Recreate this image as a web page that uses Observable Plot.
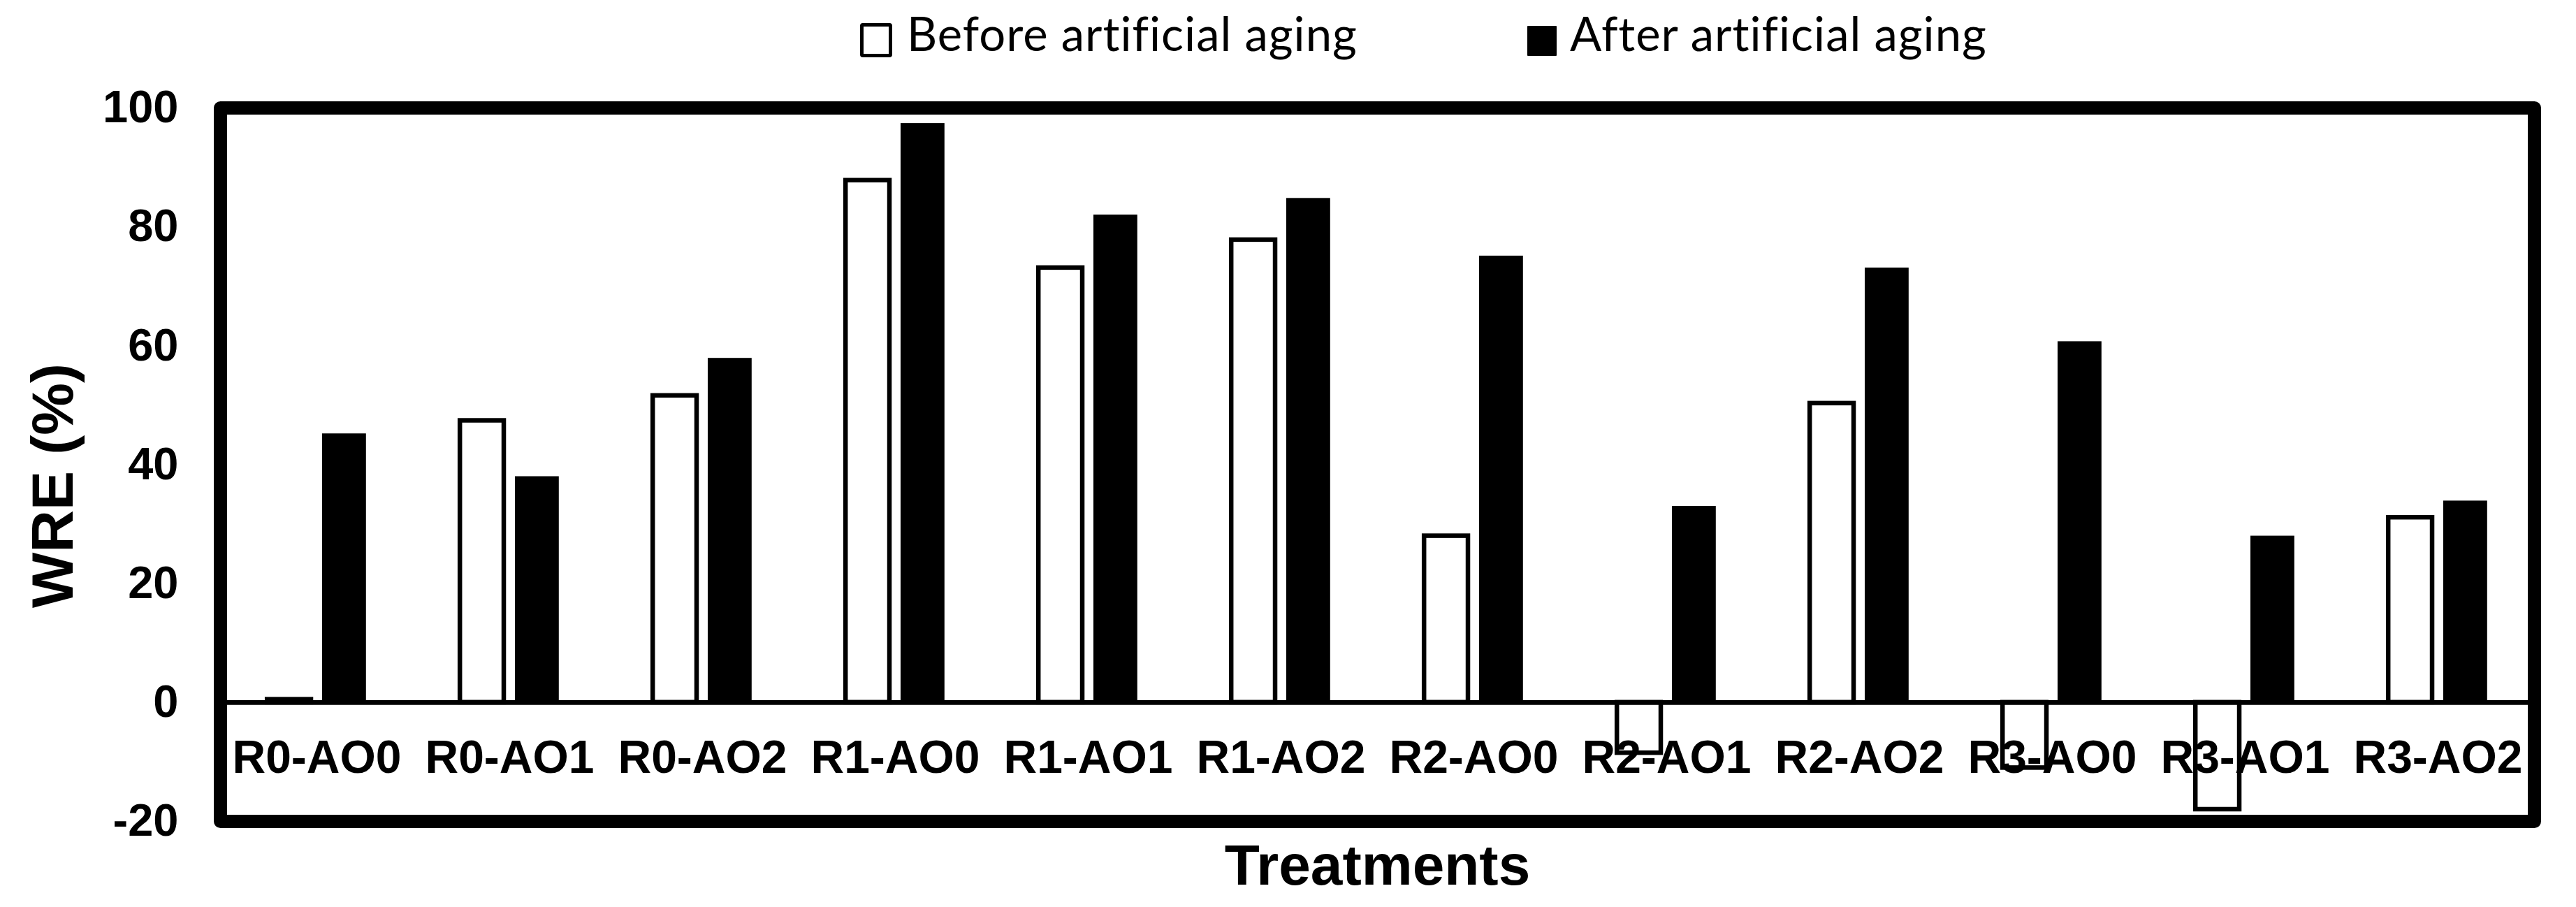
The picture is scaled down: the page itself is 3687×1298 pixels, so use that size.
<!DOCTYPE html>
<html>
<head>
<meta charset="utf-8">
<script src="https://cdn.jsdelivr.net/npm/d3@7"></script>
<script src="https://cdn.jsdelivr.net/npm/@observablehq/plot@0.6"></script>
<style>
  html, body { margin: 0; padding: 0; background: white; }
  #page { position: relative; width: 3687px; height: 1298px; overflow: hidden; }
  #legend { position: relative; height: 110px; font-family: Lato, "Noto Sans", sans-serif; font-size: 67px; color: black; font-variant-ligatures: none; letter-spacing: 1px; }
  .sw { position: absolute; box-sizing: border-box; border-radius: 4px; }
  .lt { position: absolute; top: 0; line-height: 1; white-space: nowrap; }
  #chart svg { display: block; }
</style>
</head>
<body>
<div id="page">
  <div id="legend"></div>
  <div id="chart"></div>
</div>
<script>
const treatments = ["R0-AO0","R0-AO1","R0-AO2","R1-AO0","R1-AO1","R1-AO2","R2-AO0","R2-AO1","R2-AO2","R3-AO0","R3-AO1","R3-AO2"];
const series = ["Before artificial aging", "After artificial aging"];
const beforeValues = [0.5, 47.4, 51.6, 87.8, 73.1, 77.8, 28.0, -8.5, 50.3, -11.0, -18.0, 31.1];
const afterValues  = [45.2, 38.0, 57.9, 97.4, 82.0, 84.8, 75.1, 33.0, 73.1, 60.7, 28.0, 33.9];
const yTicks = [-20, 0, 20, 40, 60, 80, 100];
const yTitle = "WRE (%)";
const xTitle = "Treatments";

const data = treatments.flatMap((t, i) => [
  {treatment: t, series: series[0], value: beforeValues[i]},
  {treatment: t, series: series[1], value: afterValues[i]}
]);

// Legend (HTML, above the SVG)
const legend = document.getElementById("legend");
legend.innerHTML = `
  <div class="sw" style="left:1231px;top:33px;width:46px;height:49px;border:5px solid black;background:white"></div>
  <div class="lt" id="lt0" style="left:1298px">${series[0]}</div>
  <div class="sw" style="left:2186px;top:37px;width:42px;height:43px;background:black;border-radius:1px"></div>
  <div class="lt" id="lt1" style="left:2247px">${series[1]}</div>`;
for (const id of ["lt0","lt1"]) {
  const el = document.getElementById(id);
  el.style.top = (80 - 67 * 0.987) + "px";
}

const chart = Plot.plot({
  width: 3687,
  height: 1188,
  marginTop: 44,
  marginBottom: 123,
  marginLeft: 310,
  marginRight: 56,
  style: {fontFamily: "'Liberation Sans', Arial, sans-serif", fontWeight: "bold", color: "black", background: "white", overflow: "visible"},
  fx: {domain: treatments, paddingInner: 0, paddingOuter: 0, label: xTitle},
  x: {domain: series, paddingInner: 0.2025, paddingOuter: 0.853, round: false, axis: null},
  y: {domain: [-20, 100], ticks: yTicks, label: yTitle},
  marks: [
    Plot.barY(data.filter(d => d.series === series[0]), {fx: "treatment", x: "series", y: "value", fill: "white", stroke: "black", strokeWidth: 6.5, inset: 0}),
    Plot.barY(data.filter(d => d.series === series[1]), {fx: "treatment", x: "series", y: "value", fill: "black", inset: 0}),
    Plot.ruleY([0], {stroke: "black", strokeWidth: 6.7}),
    Plot.axisY({ticks: yTicks, tickFormat: d => String(d), tickSize: 0, tickPadding: 60, fontSize: 65, fontWeight: "bold", label: yTitle, labelAnchor: "center", labelOffset: 271, labelArrow: "none"}),
    Plot.axisFx({anchor: "bottom", tickSize: 0, tickPadding: 0, dy: -116, fontSize: 66, fontWeight: "bold", label: null}),
    Plot.axisFx({anchor: "bottom", tickSize: 0, tickFormat: () => "", fontSize: 82, fontWeight: "bold", label: xTitle, labelAnchor: "center", labelOffset: 90}),
    Plot.frame({facet: "super", stroke: "black", strokeWidth: 19, strokeLinejoin: "round"})
  ]
});
document.getElementById("chart").appendChild(chart);

// enlarge the y title and centre it where the reference has it
const svg = d3.select(chart);
const yLab = svg.selectAll('[aria-label="y-axis label"]');
yLab.attr("font-size", 84).selectAll("text").attr("font-size", 84);
yLab.each(function() {
  const g = d3.select(this);
  g.attr("transform", "translate(0,30) " + (g.attr("transform") || ""));
});
</script>
</body>
</html>
